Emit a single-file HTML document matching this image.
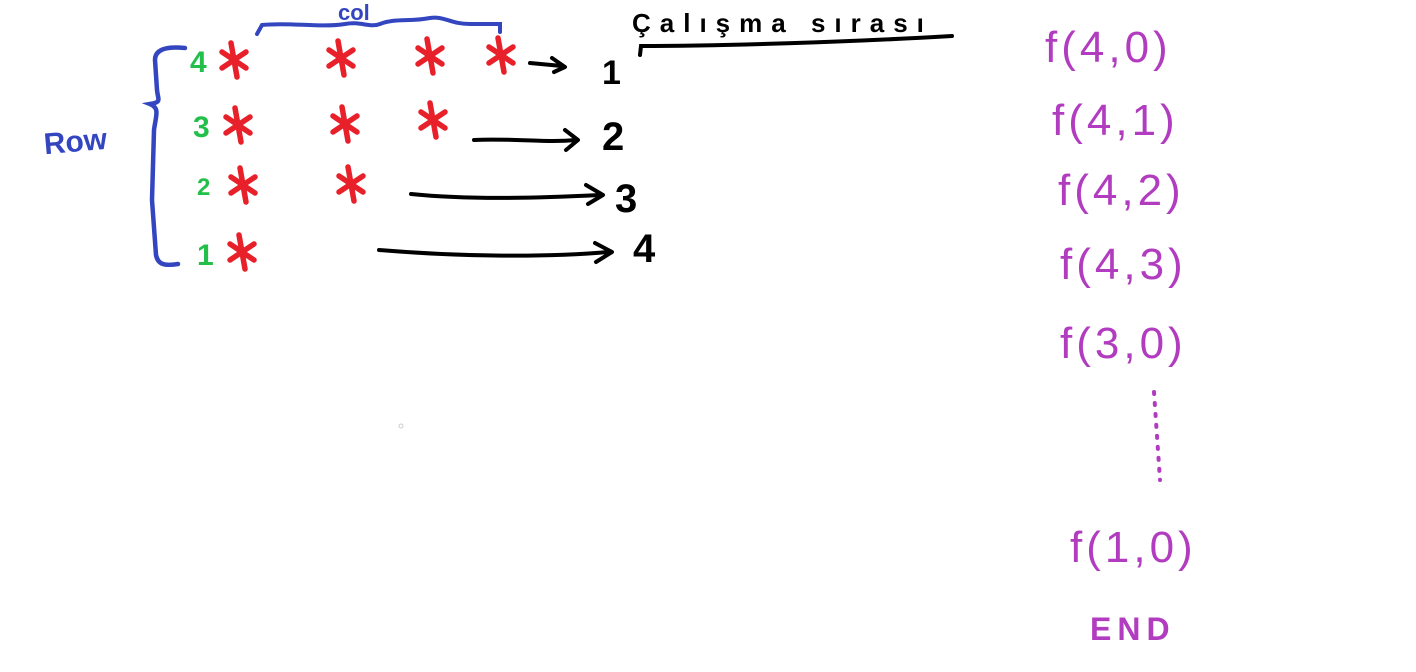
<!DOCTYPE html>
<html><head><meta charset="utf-8"><style>
html,body{margin:0;padding:0;background:#fff;width:1416px;height:672px;overflow:hidden}
svg{display:block}
text{font-family:"Liberation Sans",sans-serif}
</style></head><body>
<svg width="1416" height="672" viewBox="0 0 1416 672">
<defs>
<g id="star" stroke="#e8202a" stroke-width="5.5" stroke-linecap="round" fill="none">
<line x1="-3" y1="-17" x2="3" y2="17"/><line x1="-12" y1="-8" x2="12" y2="8"/><line x1="-12" y1="8" x2="12" y2="-8"/>
</g>
</defs>
<path d="M185,48 C165,46 155,50 155,60 L157,90 C158,100 162,102 150,104 C160,108 156,115 154,130 L152,200 L156,255 C158,265 165,266 178,264" stroke="#3346c0" stroke-width="4.5" fill="none" stroke-linecap="round"/>
<path d="M257,34 L262,25 C290,22 320,28 345,24 C360,21 370,28 380,24 C395,18 410,22 430,18 C445,16 450,24 470,24 L500,24 L500,32" stroke="#3346c0" stroke-width="4" fill="none" stroke-linecap="round"/>
<text x="338" y="20" font-size="22" font-weight="bold" fill="#3346c0">col</text>
<text x="44" y="152" font-size="30" font-weight="bold" fill="#3346c0" transform="rotate(-5 70 145)">Row</text>
<g fill="#22c04a" font-size="30" font-weight="bold">
<text x="190" y="72">4</text>
<text x="193" y="137">3</text>
<text x="197" y="195" font-size="24">2</text>
<text x="197" y="265">1</text>
</g>
<g>
<use href="#star" x="234" y="60"/><use href="#star" x="341" y="58"/><use href="#star" x="430" y="56"/><use href="#star" x="501" y="55"/>
<use href="#star" x="238" y="125"/><use href="#star" x="345" y="124"/><use href="#star" x="433" y="120"/>
<use href="#star" x="243" y="185"/><use href="#star" x="351" y="184"/>
<use href="#star" x="242" y="252"/>
</g>
<g stroke="#000" stroke-width="4" fill="none" stroke-linecap="round" stroke-linejoin="round">
<path d="M530,63 L562,66 M552,58 L565,67 L554,72"/>
<path d="M474,140 C510,138 545,143 576,140 M565,130 L578,140 L566,150"/>
<path d="M411,194 C470,200 540,198 600,195 M586,185 L603,195 L588,204"/>
<path d="M379,250 C450,256 540,258 608,252 M595,243 L612,252 L596,262"/>
</g>
<g fill="#000" font-size="40" font-weight="bold">
<text x="602" y="84" font-size="34">1</text>
<text x="602" y="150">2</text>
<text x="615" y="212">3</text>
<text x="633" y="262">4</text>
</g>
<text x="632" y="32" font-size="26" font-weight="bold" fill="#000" letter-spacing="9">Çalışma sırası</text>
<path d="M640,55 L641,46 C720,46 850,42 952,36" stroke="#000" stroke-width="4" fill="none" stroke-linecap="round"/>
<g fill="#b23cc0" font-size="44" letter-spacing="4">
<text x="1045" y="62">f(4,0)</text>
<text x="1052" y="135">f(4,1)</text>
<text x="1058" y="205">f(4,2)</text>
<text x="1060" y="279">f(4,3)</text>
<text x="1060" y="358">f(3,0)</text>
<text x="1070" y="562">f(1,0)</text>
<text x="1090" y="640" font-size="32" font-weight="bold" letter-spacing="6">END</text>
</g>
<path d="M1154,392 L1160,480" stroke="#b23cc0" stroke-width="4" stroke-dasharray="2 9" stroke-linecap="round" fill="none"/>
<circle cx="401" cy="426" r="2" fill="none" stroke="#ccc"/>
</svg>
</body></html>
